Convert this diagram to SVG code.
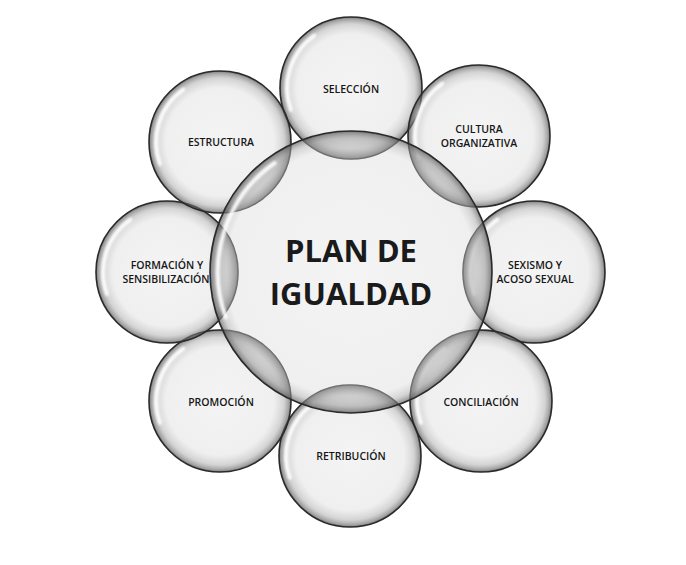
<svg xmlns="http://www.w3.org/2000/svg" width="686" height="565" viewBox="0 0 686 565">
<defs>
<radialGradient id="gb" cx="0.5" cy="0.5" r="0.5">
<stop offset="0" stop-color="#dcdcdc" stop-opacity="0.32"/>
<stop offset="0.76" stop-color="#d6d6d6" stop-opacity="0.38"/>
<stop offset="0.9" stop-color="#a8a8a8" stop-opacity="0.5"/>
<stop offset="0.975" stop-color="#6a6a6a" stop-opacity="0.65"/>
<stop offset="1" stop-color="#4a4a4a" stop-opacity="0.8"/>
</radialGradient>
<radialGradient id="gc" cx="0.5" cy="0.5" r="0.5">
<stop offset="0" stop-color="#dcdcdc" stop-opacity="0.32"/>
<stop offset="0.88" stop-color="#d6d6d6" stop-opacity="0.38"/>
<stop offset="0.95" stop-color="#a8a8a8" stop-opacity="0.5"/>
<stop offset="0.988" stop-color="#6a6a6a" stop-opacity="0.65"/>
<stop offset="1" stop-color="#4a4a4a" stop-opacity="0.8"/>
</radialGradient>
<radialGradient id="gl" cx="0.5" cy="0.5" r="0.5">
<stop offset="0.55" stop-color="#a0a0a0" stop-opacity="0.3"/>
<stop offset="0.85" stop-color="#9a9a9a" stop-opacity="0.35"/>
<stop offset="1" stop-color="#555555" stop-opacity="0.55"/>
</radialGradient>
<clipPath id="cc"><circle cx="351" cy="272" r="141"/></clipPath>
<filter id="bl" x="-20%" y="-20%" width="140%" height="140%"><feGaussianBlur stdDeviation="1.2"/></filter>
</defs>
<style>
.bub{fill:url(#gb);stroke:#2a2a2a;stroke-width:1.6}
.big{fill:url(#gc);stroke:#2a2a2a;stroke-width:1.6}
.lens{fill:url(#gl);stroke:none}
.hl{fill:none;stroke:#ffffff;stroke-width:4;stroke-linecap:round;opacity:0.9;filter:url(#bl)}
.lb{font-family:"Open Sans","Liberation Sans",sans-serif;font-weight:600;font-size:10.5px;fill:#161616;text-anchor:middle}
.tt{font-family:"Open Sans","Liberation Sans",sans-serif;font-weight:700;font-size:31px;fill:#1a1a1a;text-anchor:middle}
</style>
<rect width="686" height="565" fill="#ffffff"/>
<g id="connectors"></g>
<g id="seleccion" transform="translate(351,88)">
<circle class="bub" r="71"/>
<path class="hl" d="M-60.1 21.9A64 64 0 0 1-36.7-52.4"/>
<text class="lb" x="0" y="4.7">SELECCIÓN</text>
</g>
<g id="cultura" transform="translate(479,136)">
<circle class="bub" r="71"/>
<path class="hl" d="M-60.1 21.9A64 64 0 0 1-36.7-52.4"/>
<text class="lb" x="0" y="-3.3">CULTURA</text>
<text class="lb" x="0" y="10.7">ORGANIZATIVA</text>
</g>
<g id="sexismo" transform="translate(534,272)">
<circle class="bub" r="71"/>
<path class="hl" d="M-60.1 21.9A64 64 0 0 1-36.7-52.4"/>
<text class="lb" x="1" y="-2.7">SEXISMO Y</text>
<text class="lb" x="1" y="11.3">ACOSO SEXUAL</text>
</g>
<g id="conciliacion" transform="translate(481,401)">
<circle class="bub" r="71"/>
<path class="hl" d="M-60.1 21.9A64 64 0 0 1-36.7-52.4"/>
<text class="lb" x="0" y="5">CONCILIACIÓN</text>
</g>
<g id="retribucion" transform="translate(350,456)">
<circle class="bub" r="71"/>
<path class="hl" d="M-60.1 21.9A64 64 0 0 1-36.7-52.4"/>
<text class="lb" x="1" y="4">RETRIBUCIÓN</text>
</g>
<g id="promocion" transform="translate(220,401)">
<circle class="bub" r="71"/>
<path class="hl" d="M-60.1 21.9A64 64 0 0 1-36.7-52.4"/>
<text class="lb" x="1" y="5">PROMOCIÓN</text>
</g>
<g id="formacion" transform="translate(167,272)">
<circle class="bub" r="71"/>
<path class="hl" d="M-60.1 21.9A64 64 0 0 1-36.7-52.4"/>
<text class="lb" x="0" y="-2.7">FORMACIÓN Y</text>
<text class="lb" x="-1" y="11.3">SENSIBILIZACIÓN</text>
</g>
<g id="estructura" transform="translate(220,142)">
<circle class="bub" r="71"/>
<path class="hl" d="M-60.1 21.9A64 64 0 0 1-36.7-52.4"/>
<text class="lb" x="1" y="4">ESTRUCTURA</text>
</g>
<g id="plan">
<g clip-path="url(#cc)">
<circle class="lens" cx="351" cy="88" r="71"/>
<circle class="lens" cx="479" cy="136" r="71"/>
<circle class="lens" cx="534" cy="272" r="71"/>
<circle class="lens" cx="481" cy="401" r="71"/>
<circle class="lens" cx="350" cy="456" r="71"/>
<circle class="lens" cx="220" cy="401" r="71"/>
<circle class="lens" cx="167" cy="272" r="71"/>
<circle class="lens" cx="220" cy="142" r="71"/>
</g>
<g transform="translate(351,272)">
<circle class="big" r="141"/>
<path class="hl" d="M-125.1 45.5A133 133 0 0 1-76.3-109"/>
<text class="tt" x="0" y="-10.5">PLAN DE</text>
<text class="tt" x="0" y="33">IGUALDAD</text>
</g>
</g>
</svg>
